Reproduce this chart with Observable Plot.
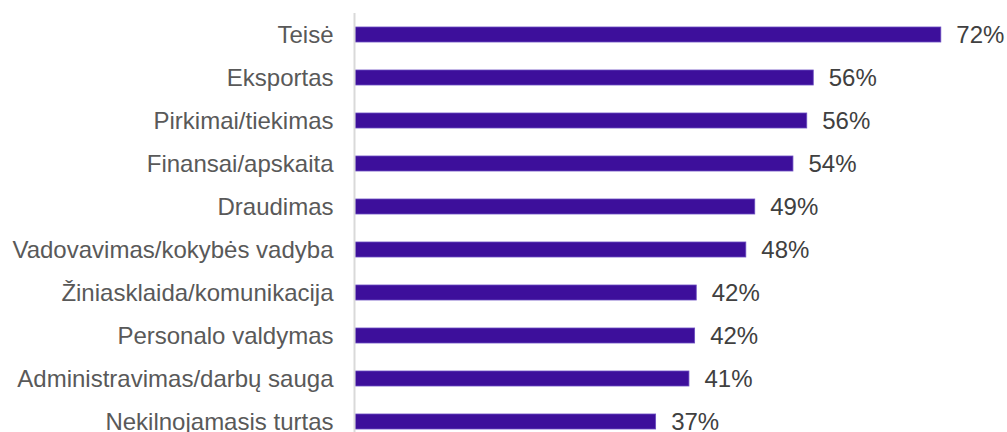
<!DOCTYPE html>
<html>
<head>
<meta charset="utf-8">
<script src="https://cdn.jsdelivr.net/npm/d3@7"></script>
<script src="https://cdn.jsdelivr.net/npm/@observablehq/plot@0.6"></script>
<style>
  html, body { margin: 0; padding: 0; background: #ffffff; }
  #chart { width: 1007px; height: 432px; overflow: hidden; }
</style>
</head>
<body>
<div id="chart"></div>
<script>
const categories = [
  "Teisė",
  "Eksportas",
  "Pirkimai/tiekimas",
  "Finansai/apskaita",
  "Draudimas",
  "Vadovavimas/kokybės vadyba",
  "Žiniasklaida/komunikacija",
  "Personalo valdymas",
  "Administravimas/darbų sauga",
  "Nekilnojamasis turtas"
];
const values = [72.1, 56.4, 55.6, 53.9, 49.2, 48.1, 42.0, 41.8, 41.1, 37.0];

const data = categories.map((c, i) => ({category: c, value: values[i]}));

const chart = Plot.plot({
  width: 1007,
  height: 432,
  marginLeft: 355,
  marginRight: 2,
  marginTop: 13,
  marginBottom: 0,
  style: {
    fontFamily: "'Liberation Sans', Arial, sans-serif",
    fontSize: "24px",
    color: "#595959",
    background: "#ffffff",
    overflow: "visible"
  },
  x: {domain: [0, 80], axis: null},
  y: {domain: categories, range: [-1, 457], padding: 0.65, axis: null},
  marks: [
    Plot.barX(data, {
      x: "value",
      y: "category",
      fill: "#3d0f9b",
      stroke: "#6a4cc0",
      strokeWidth: 0.8
    }),
    Plot.ruleX([0], {stroke: "#d9d9d9", strokeWidth: 2, dx: -1}),
    Plot.text(data, {
      x: "value",
      y: "category",
      text: d => Math.round(d.value) + "%",
      textAnchor: "start",
      dx: 15,
      fill: "#404040",
      fontSize: 24
    }),
    Plot.axisY({
      tickSize: 0,
      tickPadding: 22,
      fontSize: 24,
      fill: "#595959",
      label: null
    })
  ]
});
document.getElementById("chart").appendChild(chart);
</script>
</body>
</html>
